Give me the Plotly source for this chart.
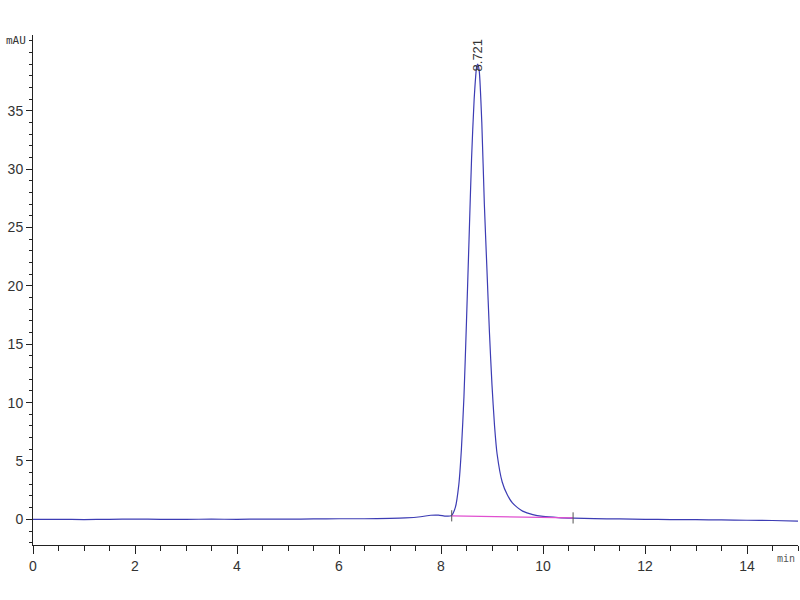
import plotly.graph_objects as go

# Chromatogram trace (time in min, absorbance in mAU)
time_min = [0, 0.5, 1, 1.5, 2, 2.5, 3, 3.5, 4, 4.5, 5, 5.5, 6, 6.5, 7, 7.3, 7.6, 7.8,
            7.95, 8.1, 8.2, 8.28, 8.35, 8.4, 8.45, 8.5, 8.55, 8.6, 8.65, 8.7, 8.721,
            8.75, 8.8, 8.85, 8.9, 8.95, 9.0, 9.05, 9.1, 9.2, 9.3, 9.4, 9.5, 9.6, 9.8,
            10.0, 10.3, 10.6, 11, 11.5, 12, 12.5, 13, 13.5, 14, 14.5, 15]
signal_mau = [0.0, 0.0, -0.02, 0.0, 0.02, 0.0, 0.0, 0.01, 0.0, 0.02, 0.02, 0.03, 0.05, 0.05,
              0.08, 0.12, 0.22, 0.35, 0.36, 0.27, 0.3, 1.0, 3.0, 6.0, 10.5, 17.0, 24.0,
              31.0, 36.0, 38.8, 39.0, 38.4, 34.0, 27.0, 21.5, 16.0, 11.5, 8.0, 5.6, 3.2,
              2.1, 1.4, 1.0, 0.7, 0.4, 0.25, 0.15, 0.1, 0.06, 0.03, 0.0, -0.02, -0.03,
              -0.05, -0.08, -0.1, -0.15]

# Integration baseline under the main peak
baseline_t = [8.21, 10.59]
baseline_v = [0.3, 0.12]

peak_rt = 8.721
peak_label = "8.721"
peak_height = 39.0

y_ticks = [0, 5, 10, 15, 20, 25, 30, 35]
x_ticks = [0, 2, 4, 6, 8, 10, 12, 14]

fig = go.Figure()
fig.add_trace(go.Scatter(x=time_min, y=signal_mau, mode="lines",
                         line=dict(color="#3c3cb4", width=1.2, shape="spline", smoothing=0.6),
                         hoverinfo="skip", showlegend=False))
fig.add_trace(go.Scatter(x=baseline_t, y=baseline_v, mode="lines+markers",
                         line=dict(color="#e050d0", width=1.2),
                         marker=dict(symbol="line-ns", size=8, line=dict(color="#555555", width=1)),
                         hoverinfo="skip", showlegend=False))

font = dict(family="Liberation Sans Narrow, Arial Narrow, Liberation Sans, Arial", size=14, color="#333333")

fig.update_layout(
    width=800, height=600,
    margin=dict(l=33, r=2, t=35, b=55, autoexpand=False),
    paper_bgcolor="white", plot_bgcolor="white",
    font=font,
    xaxis=dict(range=[0, 15], tickmode="array", tickvals=x_ticks, ticktext=[str(v) for v in x_ticks],
               automargin=False,
               showgrid=False, zeroline=False, showline=True, linecolor="#222222", linewidth=1,
               ticks="outside", ticklen=8, tickcolor="#222222",
               minor=dict(dtick=0.5, ticks="outside", ticklen=5, tickcolor="#222222", showgrid=False)),
    yaxis=dict(range=[-2.2, 41.5], tickmode="array", tickvals=y_ticks, ticktext=[str(v) for v in y_ticks],
               automargin=False,
               showgrid=False, zeroline=False, showline=True, linecolor="#222222", linewidth=1,
               ticks="outside", ticklen=6, tickcolor="#222222",
               minor=dict(dtick=1, ticks="outside", ticklen=3, tickcolor="#222222", showgrid=False)),
)

fig.add_annotation(x=0, xref="paper", y=41, yref="y", text="mAU", showarrow=False,
                   xanchor="right", xshift=-5, font=dict(family="DejaVu Sans Mono", size=11, color="#333333"))
fig.add_annotation(x=1, xref="paper", y=0, yref="paper", text="min", showarrow=False,
                   xanchor="right", yanchor="top", yshift=-6, xshift=-1,
                   font=dict(family="DejaVu Sans Mono", size=10, color="#555555"))
fig.add_annotation(x=peak_rt, y=peak_height, text=peak_label, showarrow=False, textangle=-90,
                   xanchor="center", yanchor="bottom", yshift=-9,
                   font=dict(family="Liberation Sans Narrow, Arial Narrow, Liberation Sans", size=13, color="#333333"))

fig.write_html("out.html", config={"displayModeBar": False},
               post_script="document.body.style.margin='0';document.body.style.overflow='hidden';")
